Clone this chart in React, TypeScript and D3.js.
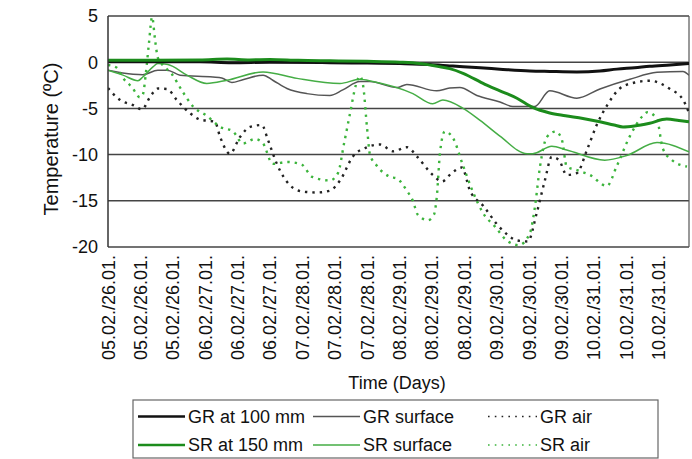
import React from "react";
import * as d3 from "d3";

// time in hours from start of record, temperature in °C
const grAt100: [number, number][] = [
  [0, 0.05], [22.7, 0.05], [30.6, -0.05], [40, 0.0], [54.8, -0.05], [64, -0.1], [72.1, -0.15],
  [79.5, -0.25], [84.4, -0.4], [87.7, -0.5], [91.9, -0.6], [96.8, -0.75], [104.2, -0.95],
  [109.1, -1.0], [115.8, -1.05], [121.5, -0.95], [125.7, -0.75], [130.1, -0.6], [133.8, -0.45],
  [138.8, -0.3], [143.5, -0.15],
];
const grSurface: [number, number][] = [
  [0, -0.87], [6.2, -1.3], [8.6, -1.35], [12.3, -0.87], [14.6, -0.87], [17.8, -1.4], [25.9, -1.6],
  [28.1, -1.7], [30.6, -2.2], [33.3, -1.9], [38.3, -1.4], [40.7, -1.95], [44.2, -2.85], [49.1, -3.4],
  [54.8, -3.6], [58.0, -3.0], [62.2, -2.1], [64.7, -2.1], [71.4, -2.75], [73.8, -2.4], [81.2, -3.1],
  [84.4, -2.8], [86.9, -2.75], [91.1, -3.6], [96.8, -4.3], [100.0, -4.8], [105.4, -4.8], [109.1, -3.1],
  [115.8, -3.9], [121.5, -2.9], [128.9, -1.85], [135.6, -1.1], [142.0, -1.0], [143.5, -1.4],
];
const grAir: [number, number][] = [
  [0, -2.8], [3.0, -4.1], [6.2, -4.65], [8.4, -5.1], [10.4, -3.75], [12.3, -2.85], [14.6, -2.9],
  [17.0, -4.1], [20.2, -5.5], [22.7, -6.2], [26.4, -6.45], [27.7, -8.1], [30.1, -9.9], [32.6, -8.1],
  [35.1, -7.0], [38.0, -6.8], [39.5, -8.4], [41.7, -11.0], [44.9, -13.3], [48.1, -14.0], [51.6, -14.1],
  [54.8, -13.9], [57.3, -12.8], [60.5, -10.2], [64.0, -9.2], [67.2, -8.9], [70.4, -9.65], [73.8, -9.2],
  [76.5, -10.3], [80.2, -12.2], [82.5, -12.9], [84.9, -12.0], [87.4, -11.4], [89.4, -13.9],
  [92.6, -15.5], [96.8, -17.9], [101.2, -19.3], [103.7, -19.4], [105.9, -16.3], [107.9, -12.8],
  [109.6, -10.25], [111.4, -10.6], [113.3, -12.2], [115.8, -12.0], [118.3, -9.5], [120.7, -6.8],
  [123.5, -4.5], [126.4, -2.85], [130.1, -2.2], [133.8, -2.0], [138.8, -2.9], [142.0, -4.05],
  [143.5, -5.5],
];
const srAt150: [number, number][] = [
  [0, 0.2], [22.7, 0.25], [29.4, 0.35], [35, 0.25], [40, 0.3], [47, 0.2], [54.8, 0.15], [64, 0.1],
  [72.1, 0.0], [77, -0.15], [82, -0.5], [84.4, -0.7], [87.7, -1.2], [93.1, -2.4], [96.8, -3.1],
  [101, -3.9], [104.9, -4.9], [109.1, -5.5], [113, -5.8], [117.3, -6.1], [121.5, -6.45], [125, -6.8],
  [127.2, -7.0], [130, -6.9], [133.8, -6.6], [138, -6.15], [141, -6.3], [143.5, -6.45],
];
const srSurface: [number, number][] = [
  [0, -0.87], [3.7, -1.4], [7.4, -2.0], [8.6, -1.6], [11.1, -0.5], [12.3, -0.15], [14.8, -0.25],
  [19.5, -1.4], [24.4, -2.3], [29.4, -1.95], [38.3, -1.05], [46.7, -1.75], [57.3, -2.3], [62.2, -1.85],
  [65.4, -2.1], [75.3, -3.4], [80.2, -4.5], [82.7, -4.1], [87.7, -5.0], [91.9, -6.3], [96.8, -8.0],
  [103.5, -9.9], [104.9, -9.9], [109.6, -9.1], [113.3, -9.5], [122.7, -10.6], [128.1, -10.1],
  [135.6, -8.7], [143.5, -9.7],
];
const srAir: [number, number][] = [
  [0, -0.3], [2.2, -0.6], [3.7, -1.7], [5.9, -2.7], [7.9, -3.8], [8.6, -3.5], [9.4, -1.0], [10.1, 2.0],
  [10.9, 4.9], [11.6, 2.5], [12.3, 0.5], [13.3, -0.2], [15.8, -1.3], [18.3, -3.1], [21.0, -4.8],
  [24.4, -5.8], [27.7, -7.0], [30.9, -7.5], [33.3, -8.8], [36.3, -8.3], [38.3, -8.8], [40.7, -11.0],
  [44.4, -10.8], [47.9, -11.1], [50.4, -12.4], [54.8, -12.8], [56.8, -12.0], [58.3, -8.8], [59.8, -5.5],
  [61.2, -2.5], [62.2, -1.5], [63.0, -2.5], [64.0, -7.2], [64.7, -10.0], [66.4, -11.2], [69.6, -12.4],
  [71.4, -12.6], [73.8, -13.9], [75.3, -15.0], [76.5, -16.5], [79.0, -17.1], [80.5, -16.5],
  [81.2, -14.6], [82.0, -9.8], [83.2, -7.5], [85.2, -8.2], [87.7, -11.2], [90.1, -14.0], [92.6, -16.3],
  [95.6, -17.8], [98.5, -19.3], [101.5, -19.8], [104.2, -18.5], [105.4, -15.8], [106.7, -11.3],
  [108.4, -8.1], [110.6, -7.5], [112.1, -8.4], [113.3, -11.3], [116.0, -11.7], [119.0, -12.2],
  [123.2, -13.4], [125.7, -11.2], [128.9, -8.0], [132.1, -5.8], [133.3, -5.4], [135.6, -6.2],
  [137.0, -9.3], [139.3, -10.6], [143.0, -11.3],
];

const xTickHours = [0, 8, 16, 24, 32, 40, 48, 56, 64, 72, 80, 88, 96, 104, 112, 120, 128, 136];
const xTickLabels = [
  "05.02./26.01.", "05.02./26.01.", "05.02./26.01.",
  "06.02./27.01.", "06.02./27.01.", "06.02./27.01.",
  "07.02./28.01.", "07.02./28.01.", "07.02./28.01.",
  "08.02./29.01.", "08.02./29.01.", "08.02./29.01.",
  "09.02./30.01.", "09.02./30.01.", "09.02./30.01.",
  "10.02./31.01.", "10.02./31.01.", "10.02./31.01.",
];
const yTicks = [5, 0, -5, -10, -15, -20];

const FONT = "'Liberation Sans', Arial, sans-serif";

export default function App() {
  const x = d3.scaleLinear().domain([0, 143.5]).range([108, 689]);
  const y = d3.scaleLinear().domain([-20, 5]).range([247, 16]);
  const line = d3
    .line<[number, number]>()
    .x((d) => x(d[0]))
    .y((d) => y(d[1]))
    .curve(d3.curveMonotoneX);

  const series = [
    { name: "GR surface", data: grSurface, color: "#555555", width: 1.5, dash: undefined as string | undefined },
    { name: "SR surface", data: srSurface, color: "#45ad45", width: 1.5, dash: undefined },
    { name: "GR air", data: grAir, color: "#222222", width: 2.4, dash: "2.4 5" },
    { name: "SR air", data: srAir, color: "#3cb43c", width: 2.4, dash: "2.4 5" },
    { name: "GR at 100 mm", data: grAt100, color: "#111111", width: 3, dash: undefined },
    { name: "SR at 150 mm", data: srAt150, color: "#1c8c1c", width: 3, dash: undefined },
  ];
  const byName = (n: string) => series.find((s) => s.name === n)!;

  const legendRows = [
    ["GR at 100 mm", "GR surface", "GR air"],
    ["SR at 150 mm", "SR surface", "SR air"],
  ];
  const colX = [138, 313, 488];
  const rowY = [416.5, 445];

  const [x0, x1] = x.range();
  const [yb, yt] = y.range();

  return (
    <svg
      width={692}
      height={459}
      style={{ position: "absolute", left: 0, top: 0, background: "#fff" }}
      fontFamily={FONT}
    >
      <defs>
        <clipPath id="plotclip">
          <rect x={x0} y={yt - 2} width={x1 - x0} height={yb - yt + 4} />
        </clipPath>
      </defs>
      <rect x={0} y={0} width={692} height={459} fill="#fff" />
      {yTicks.map((t) => (
        <line key={t} x1={x0} x2={x1} y1={y(t)} y2={y(t)} stroke="#444" strokeWidth={1.5} />
      ))}
      <line x1={x1} x2={x1} y1={yt} y2={yb} stroke="#555" strokeWidth={1.2} />
      <g clipPath="url(#plotclip)">
        {series.map((s) => (
          <path
            key={s.name}
            d={line(s.data) || ""}
            fill="none"
            stroke={s.color}
            strokeWidth={s.width}
            strokeDasharray={s.dash}
            strokeLinejoin="round"
          />
        ))}
      </g>
      <line x1={x0} x2={x0} y1={yt} y2={yb} stroke="#333" strokeWidth={1.5} />
      {yTicks.map((t) => (
        <text key={t} x={98} y={y(t)} dy="0.35em" textAnchor="end" fontSize={18} fill="#111">
          {t}
        </text>
      ))}
      <text
        transform={`translate(${58},${139}) rotate(-90)`}
        textAnchor="middle"
        fontSize={20}
        fill="#111"
      >
        Temperature (ºC)
      </text>
      {xTickHours.map((h, i) => (
        <text
          key={i}
          transform={`translate(${x(h) + 6.5},${255}) rotate(-90)`}
          textAnchor="end"
          fontSize={18}
          fill="#111"
        >
          {xTickLabels[i]}
        </text>
      ))}
      <text x={397} y={389} textAnchor="middle" fontSize={18} fill="#111">
        Time (Days)
      </text>
      <rect x={133} y={400} width={525} height={58} fill="#fff" stroke="#666" strokeWidth={1.2} />
      {legendRows.map((row, ri) =>
        row.map((name, ci) => {
          const s = byName(name);
          const lx = colX[ci];
          const len = ci === 2 ? 49 : 47;
          return (
            <g key={name}>
              <line
                x1={lx}
                x2={lx + len}
                y1={rowY[ri]}
                y2={rowY[ri]}
                stroke={s.color}
                strokeWidth={s.dash ? 1.6 : s.width === 3 ? 2.6 : 1.4}
                strokeDasharray={s.dash ? "1.6 5.2" : undefined}
              />
              <text x={lx + len + 3} y={rowY[ri]} dy="0.35em" fontSize={18} fill="#111">
                {name}
              </text>
            </g>
          );
        })
      )}
    </svg>
  );
}
